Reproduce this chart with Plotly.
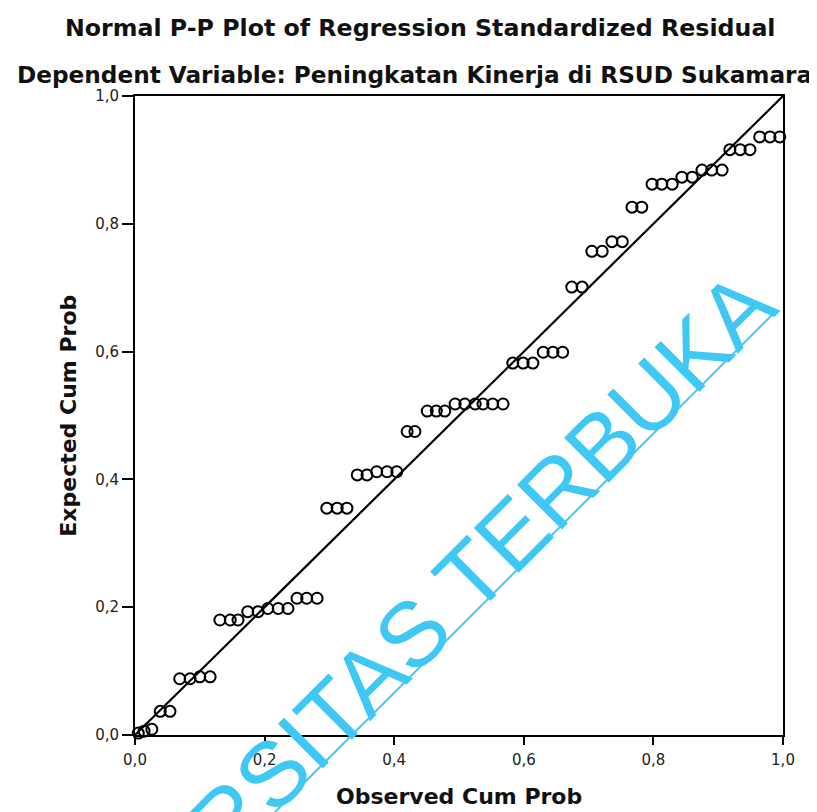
import plotly.graph_objects as go

# Observed cumulative probability (x) and expected cumulative probability (y)
observed = [0.005, 0.014, 0.026, 0.039, 0.054, 0.069, 0.085, 0.100, 0.116, 0.131,
            0.147, 0.159, 0.174, 0.190, 0.205, 0.221, 0.236, 0.250, 0.265, 0.281,
            0.296, 0.312, 0.327, 0.343, 0.358, 0.373, 0.389, 0.404, 0.420, 0.432,
            0.451, 0.465, 0.478, 0.494, 0.509, 0.525, 0.537, 0.552, 0.568, 0.583,
            0.599, 0.614, 0.630, 0.645, 0.660, 0.674, 0.690, 0.705, 0.721, 0.736,
            0.752, 0.767, 0.782, 0.798, 0.813, 0.829, 0.844, 0.860, 0.875, 0.890,
            0.906, 0.918, 0.934, 0.949, 0.964, 0.980, 0.995]
expected = [0.003, 0.006, 0.009, 0.037, 0.037, 0.088, 0.088, 0.091, 0.091, 0.180,
            0.180, 0.180, 0.193, 0.193, 0.198, 0.198, 0.198, 0.214, 0.214, 0.214,
            0.355, 0.355, 0.355, 0.407, 0.407, 0.412, 0.412, 0.412, 0.475, 0.475,
            0.507, 0.507, 0.507, 0.518, 0.518, 0.518, 0.518, 0.518, 0.518, 0.582,
            0.582, 0.582, 0.599, 0.599, 0.599, 0.701, 0.701, 0.757, 0.757, 0.772,
            0.772, 0.826, 0.826, 0.862, 0.862, 0.862, 0.873, 0.873, 0.884, 0.884,
            0.884, 0.916, 0.916, 0.916, 0.936, 0.936, 0.936]

ref_line = [0.0, 1.0]
tick_vals = [0.0, 0.2, 0.4, 0.6, 0.8, 1.0]
tick_text = ["0,0", "0,2", "0,4", "0,6", "0,8", "1,0"]

title_1 = "Normal P-P Plot of Regression Standardized Residual"
title_2 = "Dependent Variable: Peningkatan Kinerja di RSUD Sukamara"
x_title = "Observed Cum Prob"
y_title = "Expected Cum Prob"
watermark = "RSITAS TERBUKA"

fig = go.Figure()
fig.add_trace(go.Scatter(x=ref_line, y=ref_line, mode="lines",
                         line=dict(color="black", width=2.2), hoverinfo="skip",
                         showlegend=False))
fig.add_trace(go.Scatter(x=observed, y=expected, mode="markers",
                         marker=dict(symbol="circle-open", size=11,
                                     color="black", line=dict(width=2)),
                         cliponaxis=False, showlegend=False))

axis_common = dict(range=[0, 1], showgrid=False, zeroline=False,
                   showline=True, linecolor="black", linewidth=2, mirror=True,
                   ticks="outside", tickwidth=2, tickcolor="black",
                   tickvals=tick_vals, ticktext=tick_text,
                   tickfont=dict(family="DejaVu Sans", size=15, color="#222"))

# page has an 8px body margin: figure is 809x804 so it fills the 817x812 window
fig.update_layout(
    width=809, height=804,
    margin=dict(l=127, r=34, t=88, b=77),
    paper_bgcolor="white", plot_bgcolor="white",
    xaxis=dict(**axis_common, ticklen=8, ticklabelstandoff=2),
    yaxis=dict(**axis_common, ticklen=11),
    showlegend=False,
)

title_font_1 = dict(family="DejaVu Sans", size=23.7, color="#111", weight="bold")
title_font_2 = dict(family="DejaVu Sans", size=23.2, color="#111", weight="bold")
axis_font = dict(family="DejaVu Sans", size=22, color="#111", weight="bold")

annotations = [
    dict(text=title_1, x=0.44, y=1.106, xref="paper", yref="paper",
         xanchor="center", yanchor="middle", showarrow=False, font=title_font_1),
    dict(text=title_2, x=0.432, y=1.033, xref="paper", yref="paper",
         xanchor="center", yanchor="middle", showarrow=False, font=title_font_2),
    dict(text=x_title, x=0.5, y=-0.097, xref="paper", yref="paper",
         xanchor="center", yanchor="middle", showarrow=False, font=axis_font),
    dict(text=y_title, x=-0.103, y=0.5, xref="paper", yref="paper",
         xanchor="center", yanchor="middle", showarrow=False, font=axis_font,
         textangle=-90),
    dict(text=watermark, x=0.534, y=0.266, xref="paper", yref="paper",
         xanchor="center", yanchor="middle", showarrow=False, textangle=-45,
         font=dict(family="Liberation Sans", size=92, color="#40c8f4")),
]
fig.update_layout(annotations=annotations)

fig.add_shape(type="line", xref="paper", yref="paper",
              x0=0.216, y0=-0.1205, x1=0.989, y1=0.6635,
              line=dict(color="#40c8f4", width=2), layer="above")

fig.write_html("out.html")
